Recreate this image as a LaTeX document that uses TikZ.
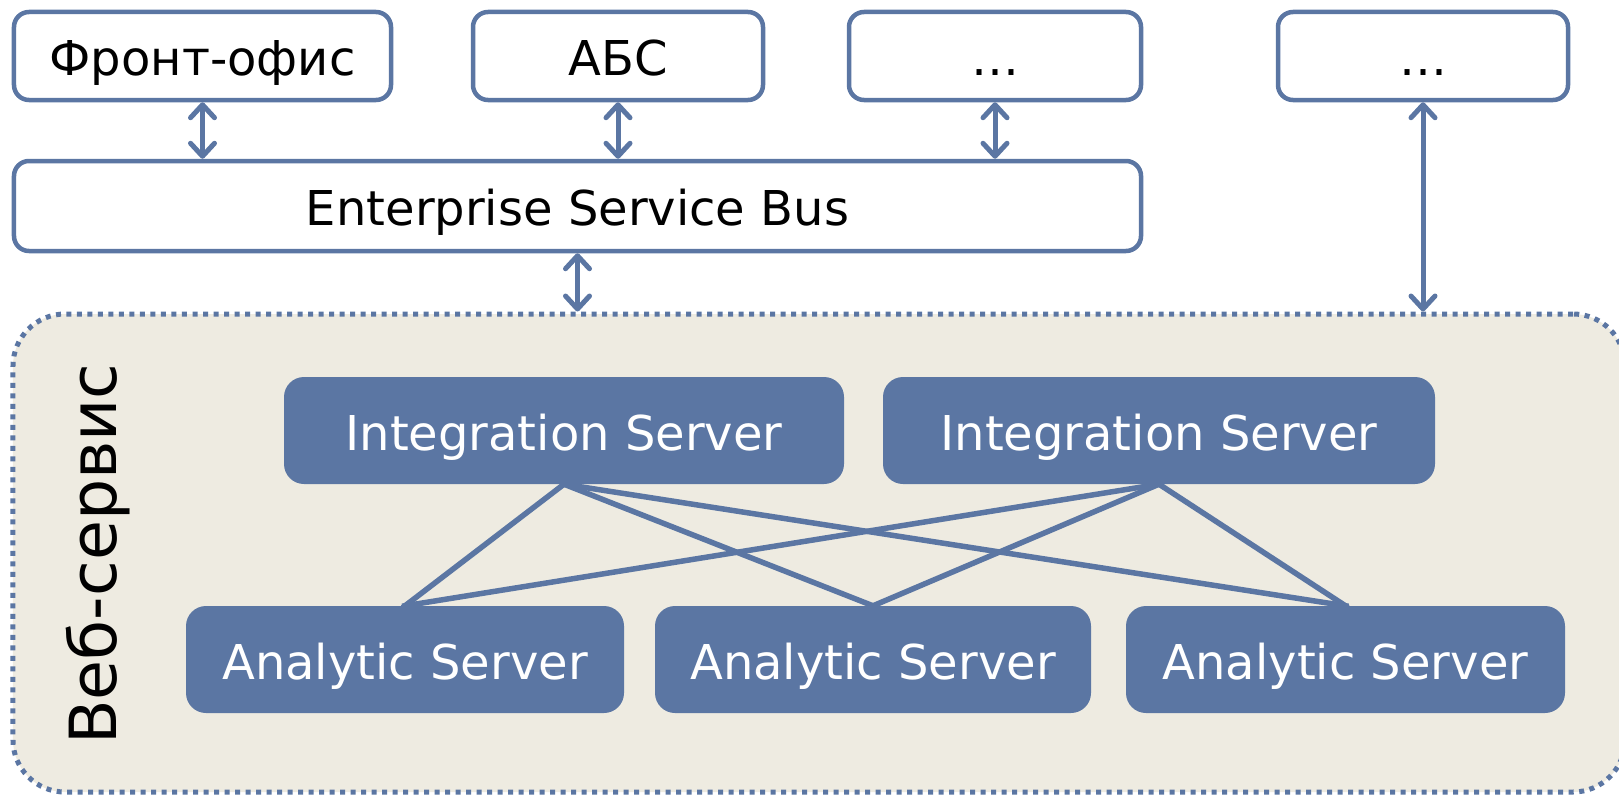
\documentclass[tikz,border=0pt]{standalone}
\usepackage{fontspec}
\setmainfont{DejaVu Sans}
\usetikzlibrary{arrows.meta}
\usetikzlibrary{positioning}
\definecolor{wsblue}{RGB}{91,118,163}
\definecolor{wsbeige}{RGB}{238,235,225}
\tikzset{sysbox/.style={draw=wsblue, line width=4.5bp, rounded corners=15bp, fill=white, inner sep=0pt, text height=39bp, text depth=0pt, font=\fontsize{48bp}{58bp}\selectfont},
  srvbox/.style={fill=wsblue, rounded corners=20bp, inner sep=0pt, text=white, text height=39bp, text depth=0pt, font=\fontsize{48bp}{58bp}\selectfont},
  link/.style={draw=wsblue, line width=5.5bp, shorten <=-3bp, shorten >=-3bp},
  bus/.style={draw=wsblue, line width=5bp, {Straight Barb[round,length=13bp,width=24bp]}-{Straight Barb[round,length=13bp,width=24bp]}}}

\begin{document}
\begin{tikzpicture}[x=1bp,y=-1bp,line join=round]
\useasboundingbox (0,0) rectangle (1619,795);
%%
\node (ws) at (819,553) [draw=wsblue, fill=wsbeige, line width=5bp, dash pattern=on 5bp off 5.5bp, rounded corners=52bp, minimum width=1612bp, minimum height=478bp] {};
\node (wslabel) at (98,554) [rotate=90, font=\fontsize{65bp}{75bp}\selectfont] {Веб-сервис};
%
\node (front) at (202.5,56) [sysbox, minimum width=377bp, minimum height=88bp] {Фронт-офис};
\node (abs) at (618,56) [sysbox, minimum width=290bp, minimum height=88bp] {АБС};
\node (dots1) at (995,56) [sysbox, minimum width=292bp, minimum height=88bp] {…};
\node (dots2) at (1423,56) [sysbox, minimum width=290bp, minimum height=88bp] {…};
\node (esb) at (577.5,206) [sysbox, minimum width=1127bp, minimum height=90bp] {Enterprise Service Bus};
%
\node (is1) at (564,430.5) [srvbox, minimum width=560bp, minimum height=107bp] {Integration Server};
\node (is2) at (1159,430.5) [srvbox, minimum width=552bp, minimum height=107bp] {Integration Server};
\node (as1) at (405,659.5) [srvbox, minimum width=438bp, minimum height=107bp] {Analytic Server};
\node (as2) at (873,659.5) [srvbox, minimum width=436bp, minimum height=107bp] {Analytic Server};
\node (as3) at (1345.5,659.5) [srvbox, minimum width=439bp, minimum height=107bp] {Analytic Server};
%
\foreach \s in {is1,is2}
  \foreach \a in {as1,as2,as3}
    \draw [link] (\s.south) -- (\a.north);
%
\foreach \t in {front,abs,dots1}
  \draw [bus] (\t.south) -- (\t.south |- esb.north);
\draw [bus] (esb.south) -- (esb.south |- ws.north);
\draw [bus] (dots2.south) -- (dots2.south |- ws.north);
%
\end{tikzpicture}
\end{document}
